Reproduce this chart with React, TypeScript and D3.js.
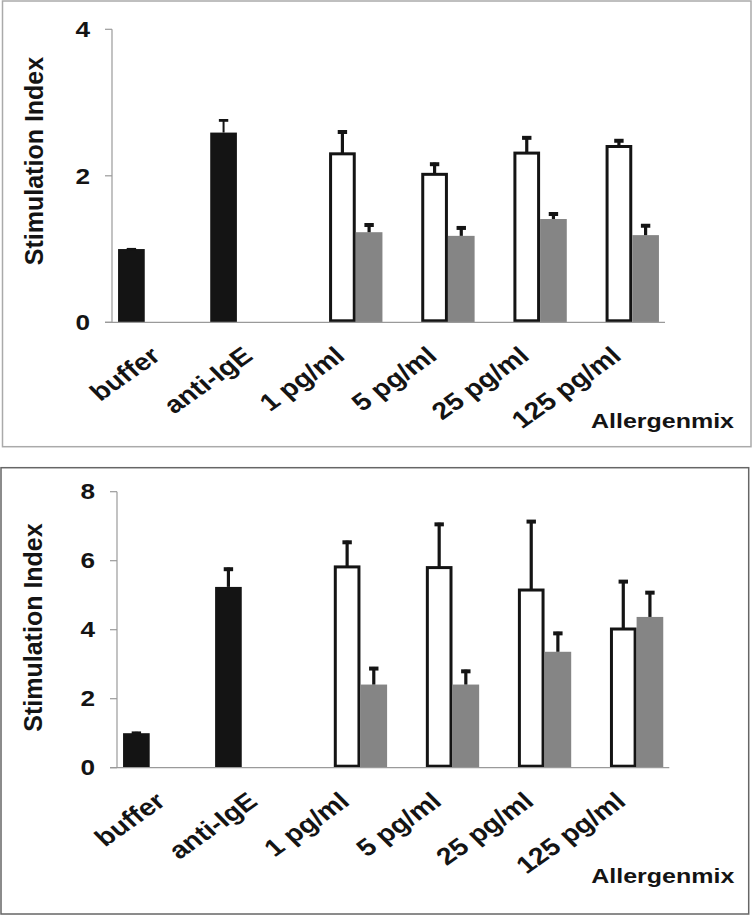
import React from "react";
import * as d3 from "d3";

const categories = ["buffer", "anti-IgE", "1 pg/ml", "5 pg/ml", "25 pg/ml", "125 pg/ml"];
const seriesKeys = ["control", "white", "gray"];

const topControl = [1.0, 2.59, null, null, null, null];
const topControlErr = [0.01, 0.18, null, null, null, null];
const topWhite = [null, null, 2.3, 2.02, 2.31, 2.4];
const topWhiteErr = [null, null, 0.32, 0.16, 0.23, 0.1];
const topGray = [null, null, 1.23, 1.18, 1.41, 1.19];
const topGrayErr = [null, null, 0.12, 0.13, 0.09, 0.15];
const topTicks = [0, 2, 4];

const botControl = [1.0, 5.24, null, null, null, null];
const botControlErr = [0.04, 0.56, null, null, null, null];
const botWhite = [null, null, 5.82, 5.8, 5.15, 4.02];
const botWhiteErr = [null, null, 0.76, 1.3, 2.03, 1.42];
const botGray = [null, null, 2.41, 2.41, 3.36, 4.37];
const botGrayErr = [null, null, 0.51, 0.43, 0.58, 0.75];
const botTicks = [0, 2, 4, 6, 8];

const yTitle = "Stimulation Index";
const xTitle = "Allergenmix";

const FONT = "'Liberation Sans', Arial, Helvetica, sans-serif";
const SX = 1.19;

type PanelProps = {
  box: { x: number; y: number; w: number; h: number; stroke: string };
  x0: number;
  x1: number;
  yTop: number;
  yBase: number;
  yMax: number;
  ticks: number[];
  control: (number | null)[];
  controlErr: (number | null)[];
  white: (number | null)[];
  whiteErr: (number | null)[];
  gray: (number | null)[];
  grayErr: (number | null)[];
  controlErrW: number;
  tickRight: number;
  titleX: number;
  titleY: number;
  xTitleX: number;
  xTitleY: number;
};

function Panel(p: PanelProps) {
  const x = d3.scaleBand<string>().domain(categories).range([p.x0, p.x1]).padding(0);
  const inner = d3
    .scaleBand<string>()
    .domain(seriesKeys)
    .range([0, x.bandwidth()])
    .paddingInner(0)
    .paddingOuter(0.227);
  const y = d3.scaleLinear().domain([0, p.yMax]).range([p.yBase, p.yTop]);
  const bw = inner.bandwidth();

  const series = [
    { key: "control", vals: p.control, errs: p.controlErr, fill: "#141414", stroke: "none", errW: p.controlErrW },
    { key: "white", vals: p.white, errs: p.whiteErr, fill: "#ffffff", stroke: "#141414", errW: 3.2 },
    { key: "gray", vals: p.gray, errs: p.grayErr, fill: "#858585", stroke: "none", errW: 3.2 },
  ];

  return (
    <g>
      <rect x={p.box.x} y={p.box.y} width={p.box.w} height={p.box.h} fill="#fff" stroke={p.box.stroke} strokeWidth={1.5} />
      {series.map((s) =>
        s.vals.map((v, i) => {
          if (v == null) return null;
          const bx = (x(categories[i]) as number) + (inner(s.key) as number);
          const top = y(v);
          if (s.stroke !== "none") {
            return (
              <rect key={s.key + i} x={bx + 1.5} y={top} width={bw - 3} height={y(0) - top - 1.5}
                fill={s.fill} stroke={s.stroke} strokeWidth={3} />
            );
          }
          return <rect key={s.key + i} x={bx} y={top} width={bw} height={y(0) - top} fill={s.fill} />;
        })
      )}
      {series.map((s) =>
        s.vals.map((v, i) => {
          const e = s.errs[i];
          if (v == null || e == null) return null;
          const cx = (x(categories[i]) as number) + (inner(s.key) as number) + bw / 2;
          const y1 = y(v);
          const y2 = y(v + e);
          return (
            <g key={"e" + s.key + i}>
              <line x1={cx} x2={cx} y1={y1} y2={y2} stroke="#141414" strokeWidth={s.errW} />
              <line x1={cx - 4.7} x2={cx + 4.7} y1={y2 + s.errW / 2} y2={y2 + s.errW / 2} stroke="#141414" strokeWidth={s.errW + 0.8} />
            </g>
          );
        })
      )}
      <line x1={p.x0} x2={p.x0} y1={y(p.yMax)} y2={y(0)} stroke="#9a9a9a" strokeWidth={1.2} />
      <line x1={p.x0 - 7} x2={p.x1} y1={y(0)} y2={y(0)} stroke="#9a9a9a" strokeWidth={1.2} />
      {p.ticks.map((t) => (
        <g key={"t" + t}>
          <line x1={p.x0 - 7} x2={p.x0} y1={y(t)} y2={y(t)} stroke="#9a9a9a" strokeWidth={1.2} />
          <text transform={`translate(${p.tickRight},${y(t)}) scale(${SX},1)`} textAnchor="end"
            dominantBaseline="central" fontFamily={FONT} fontWeight="bold" fontSize={22} fill="#141414">
            {t}
          </text>
        </g>
      ))}
      {categories.map((c) => {
        const cx = (x(c) as number) + x.bandwidth() / 2;
        return (
          <text key={"c" + c} transform={`translate(${cx + 4},${y(0) + 36}) scale(${SX},1) rotate(-40)`} textAnchor="end"
            fontFamily={FONT} fontWeight="bold" fontSize={24} fill="#141414">
            {c}
          </text>
        );
      })}
      <text transform={`translate(${p.titleX},${p.titleY}) rotate(-90)`} textAnchor="middle"
        fontFamily={FONT} fontWeight="bold" fontSize={25} fill="#141414">
        {yTitle}
      </text>
      <text transform={`translate(${p.xTitleX},${p.xTitleY}) scale(${SX},1)`} textAnchor="end"
        fontFamily={FONT} fontWeight="bold" fontSize={21} fill="#141414">
        {xTitle}
      </text>
    </g>
  );
}

export default function App() {
  return (
    <svg width={752} height={915} style={{ position: "absolute", left: 0, top: 0, background: "#fff" }}>
      <Panel box={{ x: 2.5, y: 1, w: 748.5, h: 445.7, stroke: "#aaaaaa" }} x0={112} x1={665} yTop={29.3}
        yBase={322.3} yMax={4} ticks={topTicks} control={topControl} controlErr={topControlErr}
        white={topWhite} whiteErr={topWhiteErr} gray={topGray} grayErr={topGrayErr} controlErrW={2}
        tickRight={90} titleX={43} titleY={161} xTitleX={734} xTitleY={427.7} />
      <Panel box={{ x: 1, y: 467.7, w: 747.7, h: 446.3, stroke: "#666666" }} x0={117} x1={669.3}
        yTop={491.7} yBase={767.7} yMax={8} ticks={botTicks} control={botControl}
        controlErr={botControlErr} white={botWhite} whiteErr={botWhiteErr} gray={botGray}
        grayErr={botGrayErr} controlErrW={3.2} tickRight={95} titleX={41.7} titleY={627.5}
        xTitleX={734.3} xTitleY={882.7} />
    </svg>
  );
}
